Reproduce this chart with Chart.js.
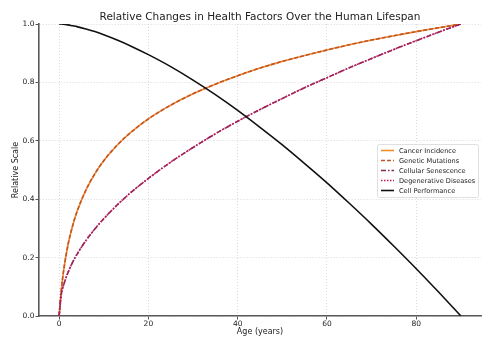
<!DOCTYPE html>
<html>
<head>
<meta charset="utf-8">
<script src="https://cdn.jsdelivr.net/npm/chart.js@4"></script>
<style>
html, body { margin: 0; padding: 0; background: #fff; }
#wrap { width: 493px; height: 351px; }
</style>
</head>
<body>
<div id="wrap"><canvas id="myChart"></canvas></div>
<script>
var ages = [0, 0.5, 1, 2, 3, 4, 6, 8, 10, 13, 16, 20, 25, 30, 35, 40, 45, 50, 55, 60, 65, 70, 75, 80, 85, 90];

// cancer incidence and genetic mutations follow the same curve in the picture
var cancerIncidence = [0, 0.090, 0.154, 0.244, 0.307, 0.357, 0.431, 0.487, 0.532, 0.585, 0.628, 0.675, 0.722, 0.761, 0.794, 0.823, 0.849, 0.872, 0.892, 0.911, 0.929, 0.945, 0.960, 0.974, 0.987, 1.0];
var geneticMutations = [0, 0.090, 0.154, 0.244, 0.307, 0.357, 0.431, 0.487, 0.532, 0.585, 0.628, 0.675, 0.722, 0.761, 0.794, 0.823, 0.849, 0.872, 0.892, 0.911, 0.929, 0.945, 0.960, 0.974, 0.987, 1.0];

// senescence and degenerative diseases overlap too
var cellularSenescence = [0, 0.075, 0.105, 0.149, 0.183, 0.211, 0.258, 0.298, 0.333, 0.380, 0.422, 0.471, 0.527, 0.577, 0.624, 0.667, 0.707, 0.745, 0.782, 0.816, 0.850, 0.882, 0.913, 0.943, 0.972, 1.0];
var degenerativeDiseases = [0, 0.075, 0.105, 0.149, 0.183, 0.211, 0.258, 0.298, 0.333, 0.380, 0.422, 0.471, 0.527, 0.577, 0.624, 0.667, 0.707, 0.745, 0.782, 0.816, 0.850, 0.882, 0.913, 0.943, 0.972, 1.0];

var cellPerformance = [1.0, 1.0, 0.999, 0.997, 0.994, 0.991, 0.983, 0.974, 0.963, 0.945, 0.925, 0.895, 0.854, 0.808, 0.758, 0.704, 0.646, 0.586, 0.522, 0.456, 0.386, 0.314, 0.239, 0.162, 0.082, 0];

var seriesNames = ['Cancer Incidence', 'Genetic Mutations', 'Cellular Senescence', 'Degenerative Diseases', 'Cell Performance'];
var xTickValues = [0, 20, 40, 60, 80];

var colors = ['#F28C28', '#C0542A', '#7E2A58', '#C2185B', '#111111'];
var dashes = [[], [4, 2], [5, 2, 1.5, 2], [1.5, 1.5], []];

function toPoints(values) {
  var pts = [];
  for (var i = 0; i < ages.length; i++) {
    pts.push({x: ages[i], y: values[i]});
  }
  return pts;
}

var allSeries = [cancerIncidence, geneticMutations, cellularSenescence, degenerativeDiseases, cellPerformance];
var datasets = [];
for (var i = 0; i < allSeries.length; i++) {
  datasets.push({
    label: seriesNames[i],
    data: toPoints(allSeries[i]),
    borderColor: colors[i],
    borderWidth: 1.6,
    borderDash: dashes[i],
    pointRadius: 0,
    fill: false,
    cubicInterpolationMode: 'monotone',
    order: allSeries.length - i   // later series on top, like the original
  });
}

// legend drawn inside the plot, right middle
var insideLegend = {
  id: 'insideLegend',
  afterDraw: function(chart) {
    var ctx = chart.ctx;
    var x0 = 377, y0 = 144, w = 101, h = 53;
    ctx.save();
    ctx.fillStyle = 'rgba(255,255,255,0.9)';
    ctx.strokeStyle = '#d8d8d8';
    ctx.lineWidth = 0.8;
    ctx.beginPath();
    ctx.roundRect(x0 + 0.5, y0 + 0.5, w, h, 2);
    ctx.fill();
    ctx.stroke();
    ctx.font = '6.6px "DejaVu Sans"';
    ctx.textBaseline = 'middle';
    for (var i = 0; i < seriesNames.length; i++) {
      var y = y0 + 6.5 + i * 10;
      ctx.strokeStyle = colors[i];
      ctx.lineWidth = 1.6;
      ctx.setLineDash(dashes[i]);
      ctx.beginPath();
      ctx.moveTo(381, y);
      ctx.lineTo(394, y);
      ctx.stroke();
      ctx.setLineDash([]);
      ctx.fillStyle = '#222';
      ctx.fillText(seriesNames[i], 399, y + 0.5);
    }
    ctx.restore();
  }
};

var tickFont = {family: '"DejaVu Sans"', size: 7.5};
var gridOpts = {
  color: '#cfcfcf',
  lineWidth: 0.8,
  tickColor: '#555',
  tickBorderDash: [],
  tickLength: 3.5,
  tickWidth: 1
};
// in v4 the dash of the grid lines sits under border
var borderOpts = {display: true, color: '#5a5a5a', width: 1.6, dash: [1, 2]};

const ctx = document.getElementById('myChart');
const myChart = new Chart(ctx, {
  type: 'line',
  data: {datasets: datasets},
  plugins: [insideLegend],
  options: {
    responsive: true,
    maintainAspectRatio: false,
    animation: false,
    layout: {padding: {left: 0, right: 12, top: 0, bottom: 0}},
    plugins: {
      legend: {display: false},
      tooltip: {enabled: false},
      title: {
        display: true,
        fullSize: false,
        text: 'Relative Changes in Health Factors Over the Human Lifespan',
        color: '#222',
        font: {family: '"DejaVu Sans"', size: 10.5, weight: 'normal', lineHeight: 1.2},
        padding: {top: 11, bottom: 0.4}
      }
    },
    scales: {
      x: {
        type: 'linear',
        min: -4.5,
        max: 94.5,
        afterBuildTicks: function(scale) {
          scale.ticks = xTickValues.map(function(v) { return {value: v}; });
        },
        afterFit: function(scale) { scale.height = 35; },
        ticks: {font: tickFont, color: '#222', padding: 0, maxRotation: 0},
        grid: gridOpts,
        border: borderOpts,
        title: {
          display: true,
          text: 'Age (years)',
          color: '#222',
          font: {family: '"DejaVu Sans"', size: 8},
          padding: {top: 0, bottom: 14}
        }
      },
      y: {
        min: 0,
        max: 1,
        afterFit: function(scale) { scale.width = 39; },
        ticks: {
          stepSize: 0.2,
          font: tickFont,
          color: '#222',
          padding: 1,
          callback: function(v) { return v.toFixed(1); }
        },
        grid: gridOpts,
        border: borderOpts,
        title: {
          display: true,
          text: 'Relative Scale',
          color: '#222',
          font: {family: '"DejaVu Sans"', size: 8},
          padding: {top: 11, bottom: 0}
        }
      }
    }
  }
});
</script>
</body>
</html>
